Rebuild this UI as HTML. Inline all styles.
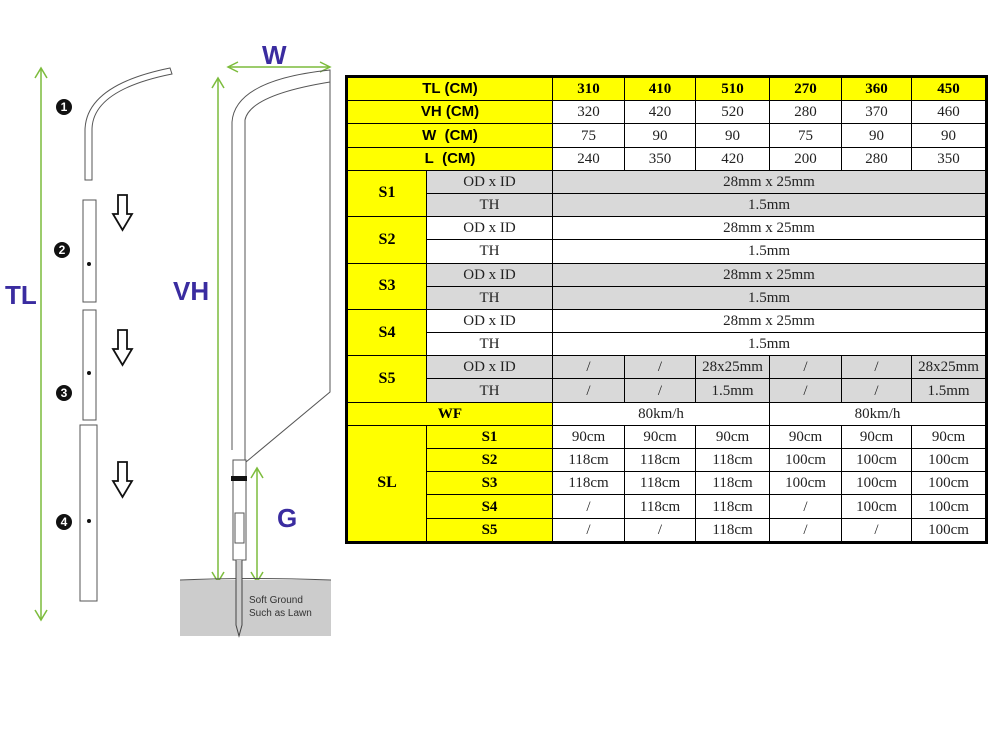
<!DOCTYPE html>
<html><head><meta charset="utf-8"><style>
body{margin:0;width:1000px;height:749px;background:#fff;position:relative;overflow:hidden;font-family:"Liberation Serif",serif}
table{position:absolute;left:345px;top:75px;width:640px;height:469px;border-collapse:collapse;border:3px solid #000;table-layout:fixed}
td{border:1.5px solid #000;text-align:center;padding:0;font-size:15px;height:21px;line-height:18px;color:#222;font-family:"Liberation Serif","Noto Serif CJK SC",serif}
.y{background:#ffff00;color:#000}
.h{font-family:"Liberation Sans",sans-serif;font-weight:bold;font-size:15px}
.b{font-weight:bold}
.g{background:#d9d9d9}
.s{font-weight:bold;font-size:16px}
.lab{position:absolute;font-family:"Liberation Sans",sans-serif;font-weight:bold;color:#3a2ca0}
</style></head><body>
<svg width="345" height="749" style="position:absolute;left:0;top:0">
<g stroke="#7cbc3c" stroke-width="1.5" fill="none">
<line x1="41" y1="68" x2="41" y2="620"/><path d="M35,78 L41,68 L47,78 M35,610 L41,620 L47,610"/>
<line x1="218" y1="78" x2="218" y2="582"/><path d="M212,88 L218,78 L224,88 M212,572 L218,582 L224,572"/>
<line x1="257" y1="468" x2="257" y2="582"/><path d="M251,478 L257,468 L263,478 M251,572 L257,582 L263,572"/>
<line x1="228" y1="67" x2="330" y2="67"/><path d="M238,62 L228,67 L238,72 M320,62 L330,67 L320,72"/>
</g>
<g stroke="#555" stroke-width="1" fill="none">
<path d="M85,180 L85,130 Q86,85 170,68 L172,74 Q92,90 92,130 L92,180 Z" fill="#fff"/>
<rect x="83" y="200" width="13" height="102" fill="#fff"/>
<rect x="83" y="310" width="13" height="110"/>
<rect x="80" y="425" width="17" height="176"/>
<path d="M232,450 L232,122 Q235,80 330,70 L330,392 L246,462 M245,460 L245,120 Q250,95 330,82"/>
<rect x="233" y="460" width="13" height="100"/>
<rect x="235" y="513" width="9" height="30"/>
</g>
<rect x="231" y="476" width="16" height="5" fill="#111"/>
<rect x="180" y="580" width="151" height="56" fill="#ccc"/>
<path d="M180,580 Q250,577 331,580" stroke="#555" fill="none"/>
<path d="M236,560 L236,625 L239,636 L242,625 L242,560" fill="#ccc" stroke="#444"/>
<text x="249" y="603" font-family="Liberation Sans,sans-serif" font-size="10" fill="#333">Soft Ground</text>
<text x="249" y="616" font-family="Liberation Sans,sans-serif" font-size="10" fill="#333">Such as Lawn</text>
<g fill="#111" font-family="Liberation Sans,sans-serif" font-weight="bold" font-size="12" text-anchor="middle">
<circle cx="64" cy="107" r="8"/><circle cx="62" cy="250" r="8"/><circle cx="64" cy="393" r="8"/><circle cx="64" cy="522" r="8"/>
<text x="64" y="111" fill="#fff">1</text><text x="62" y="254" fill="#fff">2</text><text x="64" y="397" fill="#fff">3</text><text x="64" y="526" fill="#fff">4</text>
<circle cx="89" cy="264" r="2"/><circle cx="89" cy="373" r="2"/><circle cx="89" cy="521" r="2"/>
</g>
<g fill="#fff" stroke="#111" stroke-width="1.8">
<path d="M118,195 L127,195 L127,214 L132,214 L122.5,230 L113,214 L118,214 Z"/>
<path d="M118,330 L127,330 L127,349 L132,349 L122.5,365 L113,349 L118,349 Z"/>
<path d="M118,462 L127,462 L127,481 L132,481 L122.5,497 L113,481 L118,481 Z"/>
</g>
</svg>
<div class="lab" style="left:5px;top:280px;font-size:26px">TL</div>
<div class="lab" style="left:173px;top:276px;font-size:26px">VH</div>
<div class="lab" style="left:262px;top:40px;font-size:26px">W</div>
<div class="lab" style="left:277px;top:503px;font-size:26px">G</div>
<table>
<colgroup><col style="width:80px"><col style="width:126px"><col style="width:72px"><col style="width:71px"><col style="width:74px"><col style="width:72px"><col style="width:70px"><col style="width:75px"></colgroup>
<tr><td class="y h" colspan="2">TL (CM)</td><td class="y b">310</td><td class="y b">410</td><td class="y b">510</td><td class="y b">270</td><td class="y b">360</td><td class="y b">450</td></tr>
<tr><td class="y h" colspan="2">VH (CM)</td><td>320</td><td>420</td><td>520</td><td>280</td><td>370</td><td>460</td></tr>
<tr><td class="y h" colspan="2">W&nbsp; (CM)</td><td>75</td><td>90</td><td>90</td><td>75</td><td>90</td><td>90</td></tr>
<tr><td class="y h" colspan="2">L&nbsp; (CM)</td><td>240</td><td>350</td><td>420</td><td>200</td><td>280</td><td>350</td></tr>
<tr><td class="y s" rowspan="2">S1</td><td class="g">OD x ID</td><td class="g" colspan="6">28mm x 25mm</td></tr>
<tr><td class="g">TH</td><td class="g" colspan="6">1.5mm</td></tr>
<tr><td class="y s" rowspan="2">S2</td><td>OD x ID</td><td colspan="6">28mm x 25mm</td></tr>
<tr><td>TH</td><td colspan="6">1.5mm</td></tr>
<tr><td class="y s" rowspan="2">S3</td><td class="g">OD x ID</td><td class="g" colspan="6">28mm x 25mm</td></tr>
<tr><td class="g">TH</td><td class="g" colspan="6">1.5mm</td></tr>
<tr><td class="y s" rowspan="2">S4</td><td>OD x ID</td><td colspan="6">28mm x 25mm</td></tr>
<tr><td>TH</td><td colspan="6">1.5mm</td></tr>
<tr><td class="y s" rowspan="2">S5</td><td class="g">OD x ID</td><td class="g">/</td><td class="g">/</td><td class="g">28x25mm</td><td class="g">/</td><td class="g">/</td><td class="g">28x25mm</td></tr>
<tr><td class="g">TH</td><td class="g">/</td><td class="g">/</td><td class="g">1.5mm</td><td class="g">/</td><td class="g">/</td><td class="g">1.5mm</td></tr>
<tr><td class="y b" colspan="2">WF</td><td colspan="3">80km/h</td><td colspan="3">80km/h</td></tr>
<tr><td class="y s" rowspan="5">SL</td><td class="y b">S1</td><td>90cm</td><td>90cm</td><td>90cm</td><td>90cm</td><td>90cm</td><td>90cm</td></tr>
<tr><td class="y b">S2</td><td>118cm</td><td>118cm</td><td>118cm</td><td>100cm</td><td>100cm</td><td>100cm</td></tr>
<tr><td class="y b">S3</td><td>118cm</td><td>118cm</td><td>118cm</td><td>100cm</td><td>100cm</td><td>100cm</td></tr>
<tr><td class="y b">S4</td><td>/</td><td>118cm</td><td>118cm</td><td>/</td><td>100cm</td><td>100cm</td></tr>
<tr><td class="y b">S5</td><td>/</td><td>/</td><td>118cm</td><td>/</td><td>/</td><td>100cm</td></tr>
</table>
</body></html>
